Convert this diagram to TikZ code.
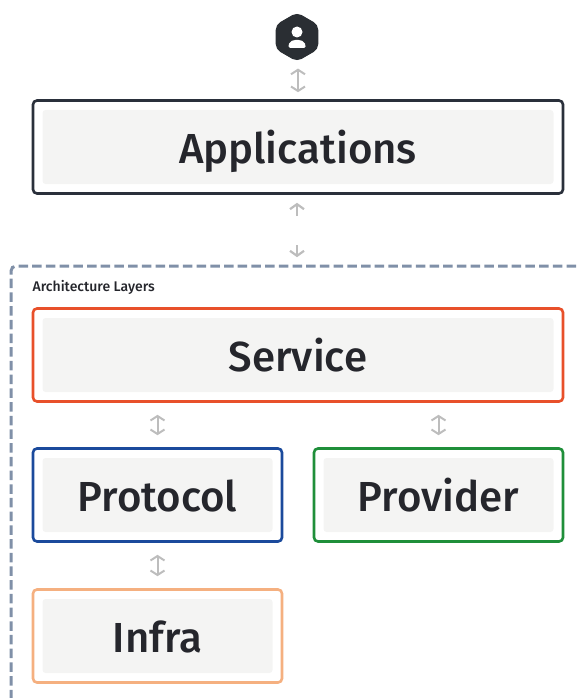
\documentclass[tikz,border=0pt]{standalone}
\usepackage{fontspec}
\setmainfont{Fira Sans Medium}
\usepackage{xcolor}
\usetikzlibrary{arrows.meta,shapes.geometric}
\definecolor{inkdark}{HTML}{2A303B}
\definecolor{icondark}{HTML}{2A2E33}
\definecolor{textdark}{HTML}{25262C}
\definecolor{boxgrey}{HTML}{F4F4F3}
\definecolor{arrowgrey}{HTML}{BDBDBD}
\definecolor{dashgrey}{HTML}{8090A8}
\definecolor{svcred}{HTML}{E8502A}
\definecolor{protoblue}{HTML}{1B4A9C}
\definecolor{provgreen}{HTML}{1F8F3A}
\definecolor{infraorange}{HTML}{F5B080}
\tikzset{
  layerbox/.style={draw, line width=2.6pt, rounded corners=4pt, inner sep=0pt, minimum height=93pt},
  layerfill/.style={fill=boxgrey, rounded corners=3pt, inner sep=0pt, minimum height=74pt, text height=32pt, text depth=0pt, text=textdark, font=\fontsize{42}{42}\selectfont},
  biarrow/.style={draw=arrowgrey, line width=2pt, {Straight Barb[length=4.5pt,width=14pt]}-{Straight Barb[length=4.5pt,width=14pt]}},
  onearrow/.style={draw=arrowgrey, line width=2.2pt, -{Straight Barb[length=5pt,width=14pt]}}
}
\begin{document}
\begin{tikzpicture}[x=1pt,y=-1pt]
\useasboundingbox (0,0) rectangle (576,698);
% outer dashed frame
\draw[dashgrey, line width=3pt, dash pattern=on 9.5pt off 4.2pt, rounded corners=5pt] (576,266)--(11,266)--(11,698);
\node[anchor=west, inner sep=0pt, text=textdark, font=\fontsize{14}{14}\selectfont] (archlabel) at (32.5,287) {Architecture Layers};
% user icon
\node[regular polygon, regular polygon sides=6, shape border rotate=30, fill=icondark, draw=icondark, line width=1pt, rounded corners=5pt, minimum size=48pt, inner sep=0pt] (user) at (297,37) {};
\fill[white] (297,32) circle (5.5);
\fill[white, rounded corners=1.5pt] (288.5,48)--(288.5,45) .. controls (290,41) and (293,40) .. (297,40) .. controls (301,40) and (304,41) .. (305.5,45)--(305.5,48)--cycle;
% layers
\node[layerbox, draw=inkdark, minimum width=530pt] (app) at (298,147) {};
\node[layerbox, draw=svcred, minimum width=530pt] (service) at (298,355) {};
\node[layerbox, draw=protoblue, minimum width=249pt] (protocol) at (157.5,495) {};
\node[layerbox, draw=provgreen, minimum width=249pt] (provider) at (438.5,495) {};
\node[layerbox, draw=infraorange, minimum width=249pt] (infra) at (157.5,636) {};
%
\node[layerfill, minimum width=511pt] (apptext) at (app) {Applications};
\node[layerfill, minimum width=511pt] (servicetext) at (service) {Service};
\node[layerfill, minimum width=230pt] (protocoltext) at (protocol) {Protocol};
\node[layerfill, minimum width=230pt] (providertext) at (provider) {Provider};
\node[layerfill, minimum width=230pt] (infratext) at (infra) {Infra};
% arrows
\coordinate (upend) at (297,216);
\coordinate (downend) at (297,245);
\draw[biarrow, shorten <=7pt, shorten >=7pt] (user.south -| app.north) -- (app.north);
\draw[onearrow, shorten >=8pt] (upend) -- (upend |- app.south);
\draw[onearrow, shorten >=50pt] (downend) -- (downend |- service.north);
\draw[biarrow, shorten <=12pt, shorten >=12pt] (service.south -| protocol.north) -- (protocol.north);
\draw[biarrow, shorten <=12pt, shorten >=12pt] (service.south -| provider.north) -- (provider.north);
\draw[biarrow, shorten <=12pt, shorten >=12pt] (protocol.south) -- (infra.north);
\end{tikzpicture}
\end{document}
